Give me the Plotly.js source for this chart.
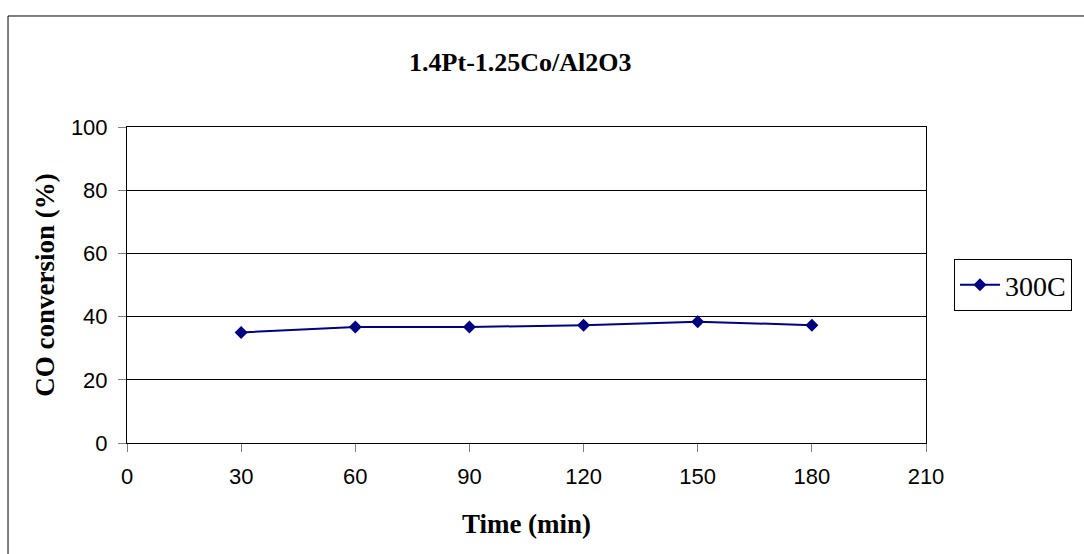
<!DOCTYPE html>
<html>
<head>
<meta charset="utf-8">
<script src="https://cdn.plot.ly/plotly-3.0.1.min.js"></script>
<style>html,body{margin:0;padding:0;background:#fff;overflow:hidden}</style>
</head>
<body>
<div id="chart" style="width:1084px;height:554px"></div>
<script>
const timeMin = [30, 60, 90, 120, 150, 180];
const conv300C = [35.0, 36.7, 36.7, 37.3, 38.4, 37.3];
const seriesName = "300C";
const xTicks = [0, 30, 60, 90, 120, 150, 180, 210];
const yTicks = [0, 20, 40, 60, 80, 100];

const serif = 'Liberation Serif, Times New Roman, serif';
const sans = 'Liberation Sans, Arial, sans-serif';

const trace = {
  x: timeMin, y: conv300C, name: seriesName, type: 'scatter', mode: 'lines+markers',
  line: {color: '#000080', width: 2},
  marker: {symbol: 'diamond', size: 10, color: '#000080'},
  showlegend: true
};

const layout = {
  width: 1084, height: 554,
  margin: {l: 127, r: 158, t: 127, b: 111},
  paper_bgcolor: '#fff', plot_bgcolor: '#fff',
  title: {text: '<b>1.4Pt-1.25Co/Al2O3</b>', font: {family: serif, size: 26, color: '#000'},
          x: 0.48, xanchor: 'center', y: 0.888, yanchor: 'middle'},
  xaxis: {range: [0, 210], tickvals: xTicks, ticktext: xTicks.map(String), showgrid: false, zeroline: false,
          showline: true, linecolor: '#000', linewidth: 1, mirror: true,
          ticks: 'outside', ticklen: 8, tickcolor: '#808080', tickwidth: 1, ticklabelstandoff: 6,
          tickfont: {family: sans, size: 22, color: '#000'},
          title: {text: '<b>Time (min)</b>', font: {family: serif, size: 27, color: '#000'}, standoff: 25}},
  yaxis: {range: [0, 100], tickvals: yTicks, ticktext: yTicks.map(String), showgrid: true, gridcolor: '#000', gridwidth: 1, zeroline: false,
          showline: true, linecolor: '#000', linewidth: 1, mirror: true,
          ticks: 'outside', ticklen: 8, tickcolor: '#808080', tickwidth: 1, ticklabelstandoff: 6,
          tickfont: {family: sans, size: 22, color: '#000'},
          title: {text: '<b>CO conversion (%)</b>', font: {family: serif, size: 27, color: '#000'}, standoff: 8}},
  legend: {x: 1.035, xanchor: 'left', y: 0.5, yanchor: 'middle', bgcolor: '#fff', bordercolor: '#000', borderwidth: 1,
           font: {family: serif, size: 28, color: '#000'}, itemwidth: 40, tracegroupgap: 0},
  shapes: [
    {type: 'rect', xref: 'paper', yref: 'paper', x0: -0.1489, x1: 1.21, y0: -0.38, y1: 1.3513,
     line: {color: '#000', width: 1}, fillcolor: 'rgba(0,0,0,0)', layer: 'below'}
  ]
};

Plotly.newPlot('chart', [trace], layout, {displayModeBar: false, staticPlot: true});
</script>
</body>
</html>
